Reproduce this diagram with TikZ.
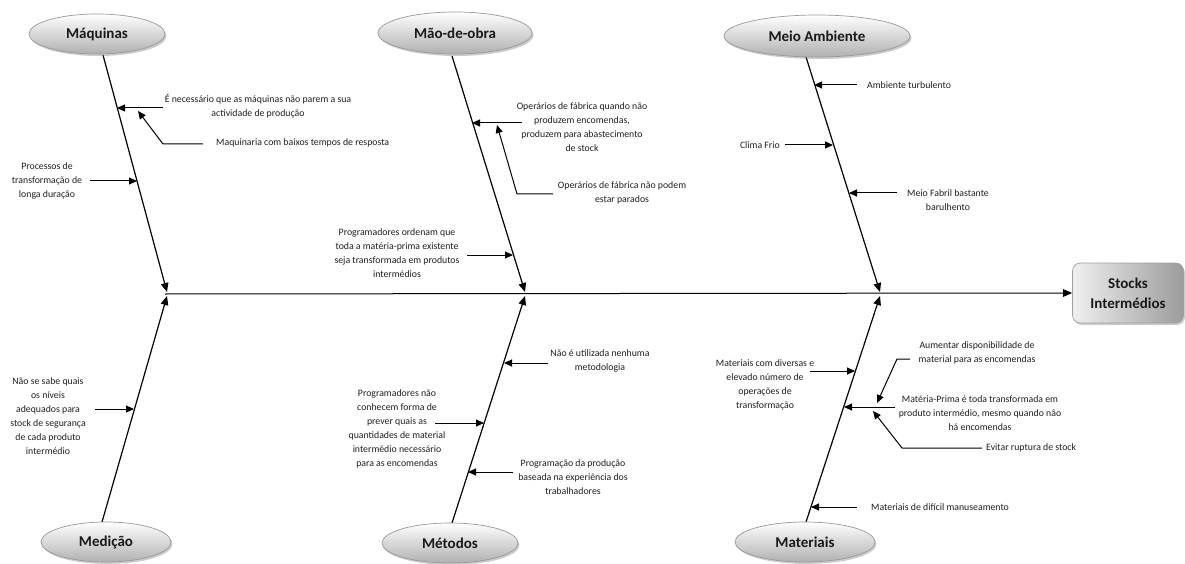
\documentclass[tikz,border=0pt]{standalone}
\usepackage{fontspec}
\setmainfont{Carlito}
\usetikzlibrary{arrows.meta,shapes.geometric,shadows}
\begin{document}
\begin{tikzpicture}[x=1pt,y=-1pt,
  cause/.style={ellipse, draw=gray!80, line width=0.7pt, top color=white, bottom color=gray!62,
    minimum height=40pt, inner sep=0pt, text=black!90,
    font=\fontsize{15}{18}\selectfont\bfseries,
    drop shadow={shadow xshift=1.5pt, shadow yshift=-2pt, opacity=0.4}},
  effect/.style={rounded corners=8pt, draw=gray!75, line width=0.7pt, left color=gray!12, right color=gray!78,
    minimum width=111pt, minimum height=60pt, align=center, text=black!90,
    font=\fontsize{15}{20}\selectfont\bfseries,
    drop shadow={shadow xshift=1.5pt, shadow yshift=-2pt, opacity=0.4}},
  note/.style={align=center, inner sep=0pt, text=black!88, font=\fontsize{9.8}{14}\selectfont},
  lnote/.style={note, anchor=west},
  rnote/.style={note, anchor=east},
  bone/.style={line width=1.2pt, -{Triangle[length=9pt,width=7.5pt]}},
  spine/.style={line width=1pt, -{Triangle[length=9pt,width=7.5pt]}},
  sub/.style={line width=1pt, -{Triangle[length=8pt,width=7pt]}},
  elbow/.style={line width=1pt, -{Triangle[length=8pt,width=7pt]}},
]
\useasboundingbox (0,0) rectangle (1185,564);

% ---- bone end points ----
\coordinate (mqT) at (103,55);  \coordinate (mqJ) at (167,292);
\coordinate (moT) at (452,56);  \coordinate (moJ) at (525,292);
\coordinate (maT) at (806,57);  \coordinate (maJ) at (880,292);
\coordinate (mdT) at (102,522); \coordinate (mdJ) at (167,296);
\coordinate (meT) at (452,523); \coordinate (meJ) at (525,296);
\coordinate (mtT) at (806,522); \coordinate (mtJ) at (880,296);
\coordinate (spL) at (165,294);

% ---- effect box and spine ----
\node[effect] (box) at (1128,293) {Stocks\\Intermédios};
\draw[spine] (spL) -- (box.west);

% ---- bones ----
\draw[bone] (mqT) -- (mqJ);
\draw[bone] (moT) -- (moJ);
\draw[bone] (maT) -- (maJ);
\draw[bone] (mdT) -- (mdJ);
\draw[bone] (meT) -- (meJ);
\draw[bone] (mtT) -- (mtJ);

% ---- category heads ----
\node[cause, minimum width=136pt] (mq) at (97,34) {Máquinas};
\node[cause, minimum width=154pt, minimum height=42pt] (mo) at (455,33) {Mão-de-obra};
\node[cause, minimum width=186pt, minimum height=42pt] (ma) at (817,36) {Meio Ambiente};
\node[cause, minimum width=130pt] (md) at (106,542) {Medição};
\node[cause, minimum width=136pt] (me) at (450,543) {Métodos};
\node[cause, minimum width=140pt] (mt) at (805,542) {Materiais};

% ================= Máquinas =================
\node[note] (q1) at (258,106) {É necessário que as máquinas não parem a sua\\actividade de produção};
\coordinate (q1s) at (163,108); \coordinate (q1e) at (117,108);
\draw[sub] (q1s) -- (q1e);
\node[lnote] (q2) at (216,143) {Maquinaria com baixos tempos de resposta};
\coordinate (q2s) at (203,144); \coordinate (q2k) at (163,144); \coordinate (q2e) at (138,111);
\draw[elbow] (q2s) -- (q2k) -- (q2e);
\node[note] (q3) at (47,181) {Processos de\\transformação de\\longa duração};
\coordinate (q3s) at (90,181); \coordinate (q3e) at (137,181);
\draw[sub] (q3s) -- (q3e);

% ================= Mão-de-obra =================
\node[note] (o1) at (582,127) {Operários de fábrica quando não\\produzem encomendas,\\produzem para abastecimento\\de stock};
\coordinate (o1s) at (522,123); \coordinate (o1e) at (472,123);
\draw[sub] (o1s) -- (o1e);
\node[note] (o2) at (622,192.5) {Operários de fábrica não podem\\estar parados};
\coordinate (o2s) at (553,194); \coordinate (o2k) at (517,194); \coordinate (o2e) at (497,125);
\draw[elbow] (o2s) -- (o2k) -- (o2e);
\node[note] (o3) at (397,253.5) {Programadores ordenam que\\toda a matéria-prima existente\\seja transformada em produtos\\intermédios};
\coordinate (o3s) at (467,255); \coordinate (o3e) at (513,255);
\draw[sub] (o3s) -- (o3e);

% ================= Meio Ambiente =================
\node[lnote] (a1) at (867,85) {Ambiente turbulento};
\coordinate (a1s) at (857,85); \coordinate (a1e) at (814,85);
\draw[sub] (a1s) -- (a1e);
\node[rnote] (a2) at (780,145) {Clima Frio};
\coordinate (a2s) at (785,145); \coordinate (a2e) at (833,145);
\draw[sub] (a2s) -- (a2e);
\node[note] (a3) at (948,200) {Meio Fabril bastante\\barulhento};
\coordinate (a3s) at (897,193); \coordinate (a3e) at (849,193);
\draw[sub] (a3s) -- (a3e);

% ================= Medição =================
\node[note] (d1) at (48,416.5) {Não se sabe quais\\os níveis\\adequados para\\stock de segurança\\de cada produto\\intermédio};
\coordinate (d1s) at (95,409); \coordinate (d1e) at (134,409);
\draw[sub] (d1s) -- (d1e);

% ================= Métodos =================
\node[note] (e1) at (600,361) {Não é utilizada  nenhuma\\metodologia};
\coordinate (e1s) at (548,363); \coordinate (e1e) at (504,363);
\draw[sub] (e1s) -- (e1e);
\node[note] (e2) at (397,429) {Programadores não\\conhecem forma de\\prever quais as\\quantidades de material\\intermédio necessário\\para as encomendas};
\coordinate (e2s) at (435,423); \coordinate (e2e) at (484,423);
\draw[sub] (e2s) -- (e2e);
\node[note] (e3) at (573,477) {Programação da produção\\baseada na experiência dos\\trabalhadores};
\coordinate (e3s) at (513,472); \coordinate (e3e) at (468,472);
\draw[sub] (e3s) -- (e3e);

% ================= Materiais =================
\node[note] (t1) at (765,384.5) {Materiais com diversas e\\elevado número de\\operações de\\transformação};
\coordinate (t1s) at (810,371); \coordinate (t1e) at (855,371);
\draw[sub] (t1s) -- (t1e);
\node[note] (t2) at (977,352.5) {Aumentar disponibilidade  de\\material para as encomendas};
\coordinate (t2s) at (910,359); \coordinate (t2k) at (897,359); \coordinate (t2e) at (877,403);
\draw[elbow] (t2s) -- (t2k) -- (t2e);
\node[note] (t3) at (980,413) {Matéria-Prima é toda transformada em\\produto intermédio, mesmo quando não\\há encomendas};
\coordinate (t3s) at (895,407); \coordinate (t3e) at (844,407);
\draw[sub] (t3s) -- (t3e);
\node[lnote] (t4) at (986,448) {Evitar ruptura de stock};
\coordinate (t4s) at (982,448); \coordinate (t4k) at (902,448); \coordinate (t4e) at (873,411);
\draw[elbow] (t4s) -- (t4k) -- (t4e);
\node[lnote] (t5) at (871,507) {Materiais de difícil manuseamento};
\coordinate (t5s) at (857,507); \coordinate (t5e) at (811,507);
\draw[sub] (t5s) -- (t5e);
\end{tikzpicture}
\end{document}
